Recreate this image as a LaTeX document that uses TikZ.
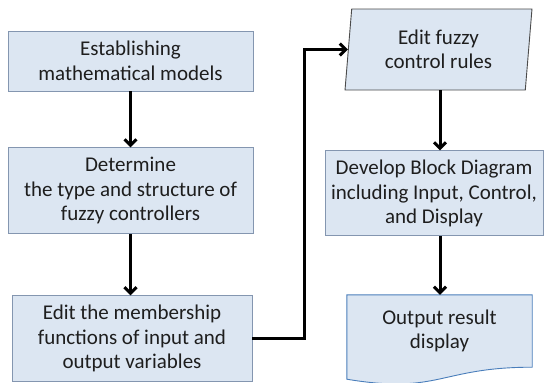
\documentclass[tikz,border=0pt]{standalone}
\usepackage{fontspec}
\setmainfont{Carlito}
\usepackage{tikz}
\usetikzlibrary{arrows.meta,positioning,shapes.geometric,calc}
\definecolor{fuzzyFill}{HTML}{DCE6F2}
\definecolor{fuzzyEdge}{HTML}{8496B0}
\definecolor{fuzzyDoc}{HTML}{4A7EBB}
\definecolor{fuzzyInk}{HTML}{1E1E1E}
\tikzset{
  stepbox/.style={
    rectangle,
    draw=fuzzyEdge,
    fill=fuzzyFill,
    line width=0.9pt,
    align=center,
    inner sep=0pt,
    text=fuzzyInk,
    font=\fontsize{21pt}{24.5pt}\selectfont
  },
  inputbox/.style={
    trapezium,
    trapezium left angle=84,
    trapezium right angle=96,
    trapezium stretches=true,
    draw=fuzzyInk!80,
    fill=fuzzyFill,
    line width=0.9pt,
    align=center,
    inner sep=0pt,
    text=fuzzyInk,
    font=\fontsize{21pt}{24.5pt}\selectfont
  },
  docbox/.style={
    rectangle,
    align=center,
    inner sep=0pt,
    text=fuzzyInk,
    font=\fontsize{21pt}{24.5pt}\selectfont
  },
  arrow/.style={
    -{Straight Barb[length=6pt,width=12pt,line width=3pt]},
    line width=3pt,
    draw=black
  }
}
\begin{document}
\begin{tikzpicture}[x=1pt,y=1pt]
  \useasboundingbox (0,0) rectangle (544,-383);
  % left column
  \node[stepbox,minimum width=245pt,minimum height=60pt] (models) at (130.5,-61) {Establishing\\mathematical models};
  \node[stepbox,minimum width=245pt,minimum height=86pt,below=56pt of models] (controller) {Determine\\the type and structure of\\fuzzy controllers};
  \node[stepbox,minimum width=240pt,minimum height=86pt,below=61pt of controller,xshift=1.5pt] (membership) {Edit the membership\\functions of input and\\output variables};
  % right column
  \node[inputbox,minimum width=187pt,minimum height=81pt] (rules) at (438.5,-49.5) {Edit fuzzy\\control rules};
  \node[stepbox,minimum width=218pt,minimum height=85pt,below=60pt of rules,xshift=-4.5pt] (block) {Develop Block Diagram\\including Input, Control,\\and Display};
  \node[docbox,minimum width=185pt,minimum height=72pt] (output) at (439.5,-331) {};
  \draw[draw=fuzzyDoc,fill=fuzzyFill,line width=0.9pt]
    (output.north west) -- (output.north east) -- (output.south east)
    .. controls ($(output.south)$) and ($(output.south)+(0,-27.5)$) .. ($(output.south west)+(0,-12)$)
    -- cycle;
  \node[docbox] at (output) {Output result\\display};
  % connectors
  \draw[arrow] (models) -- (controller);
  \draw[arrow] (controller) -- (controller |- membership.north);
  \draw[arrow] (membership.east) -- ++(52,0) |- (rules.west);
  \draw[arrow] (rules.south -| 440,0) -- (block.north -| 440,0);
  \draw[arrow] (block.south -| 440,0) -- (output.north -| 440,0);
\end{tikzpicture}
\end{document}
